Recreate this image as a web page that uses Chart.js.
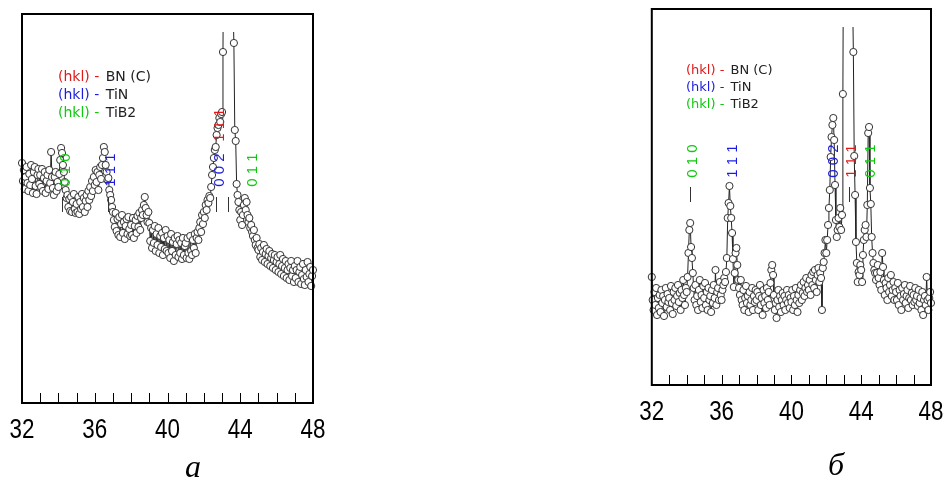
<!DOCTYPE html>
<html>
<head>
<meta charset="utf-8">
<script src="https://cdn.jsdelivr.net/npm/chart.js@4.4.1/dist/chart.umd.min.js"></script>
<style>
  html, body { margin: 0; padding: 0; background: #fff; }
  #wrap { position: relative; width: 946px; height: 479px; }
  canvas { position: absolute; left: 0; top: 0; }
</style>
</head>
<body>
<div id="wrap">
  <canvas id="left-chart" width="946" height="479"></canvas>
  <canvas id="right-chart" width="946" height="479"></canvas>
</div>
<script>
// 2-theta grid, 0.05 deg step, 32..48
const twoTheta = Array.from({ length: 321 }, (_, i) => +(32 + i * 0.05).toFixed(2));
const xTicks = [32, 36, 40, 44, 48];

// intensities, arbitrary units (panel a)
const intensityA = [
  240,222,233,214,226,236,220,212,229,218,238,224,210,231,236,217,209,228,234,219, // 32
  228,216,234,212,225,231,210,222,228,214,233,220,251,226,215,208,226,231,212,221, // 33
  216,229,243,255,250,238,231,221,213,205,208,196,204,192,206,191,201,209,194,190, // 34
  199,191,206,189,201,194,209,196,205,191,202,208,196,212,203,216,207,222,212,226, // 35
  218,233,221,231,213,228,236,224,238,245,256,251,238,231,223,225,213,208,203,196, // 36
  191,183,176,190,172,184,168,186,166,179,188,170,181,164,177,184,169,186,174,167, // 37
  178,168,185,165,177,183,170,187,176,190,173,185,193,188,198,206,195,188,181,191, // 38
  180,162,175,155,173,160,177,152,169,158,175,150,167,156,170,148,165,154,173,152, // 39
  167,150,163,145,169,152,161,142,165,148,159,167,146,163,150,160,144,165,148,157, // 40
  160,145,165,150,144,167,152,148,163,155,169,150,165,171,163,175,181,171,188,179, // 41
  191,185,198,193,203,200,207,205,216,228,236,245,253,256,268,275,278,285,281,289, // 42
  291,351,520,700,900,1000,950,880,760,640,560,470,400,360,273,262,219,208,201,193, // 43
  183,191,178,188,198,205,193,201,188,181,185,175,178,171,167,173,163,158,165,155, // 44
  153,159,146,155,143,151,158,141,149,154,139,147,152,137,145,149,135,143,148,133, // 45
  141,146,131,139,148,129,137,144,127,135,142,125,133,139,123,135,142,127,133,121, // 46
  137,125,133,142,121,131,136,119,128,139,124,118,133,126,141,121,129,136,117,127,133 // 47-48
];

// intensities, arbitrary units (panel b)
const intensityB = [
  108,85,75,93,80,97,70,87,77,90,73,95,82,89,69,85,97,78,91,83,
  87,75,99,82,71,93,85,97,79,89,100,83,92,75,95,87,105,90,80,97,
  93,108,132,155,162,138,127,112,97,85,100,80,89,75,95,105,83,90,77,99,
  87,102,80,93,75,97,85,89,73,95,82,100,87,115,80,93,97,85,103,90,
  85,95,100,107,103,113,127,167,182,199,179,167,152,126,98,112,132,137,120,105,
  97,90,105,85,80,95,75,87,99,82,89,73,93,80,85,97,75,89,83,95,
  85,93,75,89,100,80,87,70,95,82,89,77,97,85,93,80,102,115,120,110,
  90,75,82,67,85,95,78,89,73,85,92,80,89,75,85,95,82,90,77,87,
  83,95,75,89,80,97,85,73,90,82,95,100,85,92,103,89,97,107,93,100,
  95,105,90,110,100,113,97,115,105,93,110,117,103,112,107,75,117,123,132,145,
  132,145,160,177,195,228,248,260,267,245,200,165,148,155,167,158,177,155,170,291,
  520,720,900,980,1000,950,860,740,620,500,400,333,229,190,143,122,103,113,110,120,
  115,103,130,145,155,160,148,180,252,258,197,181,148,132,122,115,112,105,112,120,
  107,100,113,95,132,118,105,90,102,97,85,107,93,100,110,89,95,103,85,97,
  93,85,102,80,95,89,75,97,85,91,100,82,89,95,77,87,99,85,92,80,
  90,83,97,85,89,79,95,82,87,75,93,70,85,89,80,108,85,75,87,93,82
];

// phase legend
const phases = ['BN (C)', 'TiN', 'TiB2'];
const phaseColors = ['#e01818', '#1c1ce0', '#10c810'];

// reflection labels: [2theta, hkl, phase index]
const hklA = [[34.42, '0 1 0', 2], [36.9, '1 1 1', 1], [42.9, '1 1 1', 0], [42.9, '0 0 2', 1], [44.71, '0 1 1', 2]];
const hklB = [[34.36, '0 1 0', 2], [36.65, '1 1 1', 1], [42.44, '0 0 2', 1], [43.47, '1 1 1', 0], [44.56, '0 1 1', 2]];
// black reference markers (2theta)
const marksA = [34.22, 36.72, 42.68, 43.34];
const marksB = [34.19, 43.3];

function decorPlugin(cfg) {
  return {
    id: 'decor-' + cfg.caption,
    afterDatasetsDraw(chart) {
      const { ctx, chartArea: a } = chart;
      const xs = chart.scales.x, ys = chart.scales.y;
      ctx.save();

      // frame
      ctx.strokeStyle = '#000';
      ctx.lineWidth = 2;
      ctx.strokeRect(a.left, a.top, a.right - a.left, a.bottom - a.top);

      // minor ticks inside, every degree
      ctx.lineWidth = 1;
      for (let t = 33; t < 48; t++) {
        const px = Math.round(xs.getPixelForValue(t)) + 0.5;
        ctx.beginPath();
        ctx.moveTo(px, a.bottom);
        ctx.lineTo(px, a.bottom - 10);
        ctx.stroke();
      }

      // tick labels (narrowed, like the original)
      ctx.fillStyle = '#000';
      ctx.font = '28px "Liberation Sans", Arial, sans-serif';
      ctx.textAlign = 'center';
      ctx.textBaseline = 'alphabetic';
      xs.ticks.forEach(tk => {
        ctx.save();
        ctx.translate(xs.getPixelForValue(tk.value), a.bottom + cfg.labelDrop);
        ctx.scale(0.8, 1);
        ctx.fillText(String(tk.value), 0, 0);
        ctx.restore();
      });

      // legend
      ctx.font = cfg.legendFont;
      ctx.textBaseline = 'middle';
      ctx.textAlign = 'left';
      phases.forEach((p, i) => {
        const x0 = xs.getPixelForValue(cfg.legendX);
        const y0 = ys.getPixelForValue(cfg.legendY[i]);
        const head = '(hkl) - ';
        ctx.fillStyle = phaseColors[i];
        ctx.fillText(head, x0, y0);
        ctx.fillStyle = '#222';
        ctx.fillText(p, x0 + ctx.measureText(head).width + 2, y0);
      });

      // hkl labels, rotated
      ctx.font = '15px "Liberation Sans", Arial, sans-serif';
      ctx.textAlign = 'center';
      cfg.hkl.forEach(([t, label, ph]) => {
        const yv = cfg.hklY[label + ph] !== undefined ? cfg.hklY[label + ph] : cfg.hklY.def;
        ctx.save();
        ctx.translate(xs.getPixelForValue(t), ys.getPixelForValue(yv));
        ctx.rotate(-Math.PI / 2);
        ctx.fillStyle = phaseColors[ph];
        ctx.fillText(label, 0, 0);
        ctx.restore();
      });

      // black markers
      ctx.strokeStyle = '#333';
      ctx.lineWidth = 1;
      cfg.marks.forEach(t => {
        const px = Math.round(xs.getPixelForValue(t)) + 0.5;
        ctx.beginPath();
        ctx.moveTo(px, ys.getPixelForValue(cfg.markY[0]));
        ctx.lineTo(px, ys.getPixelForValue(cfg.markY[1]));
        ctx.stroke();
      });

      // caption
      ctx.fillStyle = '#000';
      ctx.font = 'italic 32px "Liberation Serif", "Times New Roman", serif';
      ctx.textBaseline = 'alphabetic';
      ctx.fillText(cfg.caption, cfg.capX, cfg.capY);
      ctx.restore();
    }
  };
}

function makeChart(id, values, box, cfg) {
  const ctx = document.getElementById(id).getContext('2d');
  return new Chart(ctx, {
    type: 'line',
    data: {
      datasets: [{
        data: twoTheta.map((t, i) => ({ x: t, y: values[i] })),
        borderColor: '#222',
        borderWidth: 1,
        pointRadius: 3.6,
        pointBorderWidth: 1,
        pointBorderColor: '#333',
        pointBackgroundColor: '#fff',
        tension: 0,
        clip: { left: 5, top: -18, right: 5, bottom: 0 }
      }]
    },
    options: {
      responsive: false,
      animation: false,
      devicePixelRatio: 1,
      events: [],
      layout: { padding: { left: box.left, top: box.top, right: 946 - box.right, bottom: 479 - box.bottom - 40 } },
      plugins: { legend: { display: false }, tooltip: { enabled: false } },
      scales: {
        x: {
          type: 'linear', min: 32, max: 48,
          afterBuildTicks: s => { s.ticks = xTicks.map(v => ({ value: v })); },
          afterFit: s => { s.height = 40; },
          grid: { display: false, drawTicks: false },
          border: { display: false },
          ticks: { display: false }
        },
        y: { display: false, min: 0, max: box.bottom - box.top }
      }
    },
    plugins: [decorPlugin(cfg)]
  });
}

makeChart('left-chart', intensityA,
  { left: 22, right: 313, top: 14, bottom: 403 },
  {
    caption: '\u0430', capX: 193, capY: 477, labelDrop: 35,
    legendX: 33.98, legendY: [326, 308, 290],
    legendFont: '14px "DejaVu Sans", sans-serif',
    hkl: hklA, hklY: { def: 233, '1 1 10': 278 },
    marks: marksA, markY: [206, 191]
  });

makeChart('right-chart', intensityB,
  { left: 651.8, right: 931, top: 9, bottom: 385 },
  {
    caption: '\u0431', capX: 836, capY: 475, labelDrop: 35,
    legendX: 33.96, legendY: [314, 297, 280],
    legendFont: '13px "DejaVu Sans", sans-serif',
    hkl: hklB, hklY: { def: 224 },
    marks: marksB, markY: [198, 183]
  });
</script>
</body>
</html>
